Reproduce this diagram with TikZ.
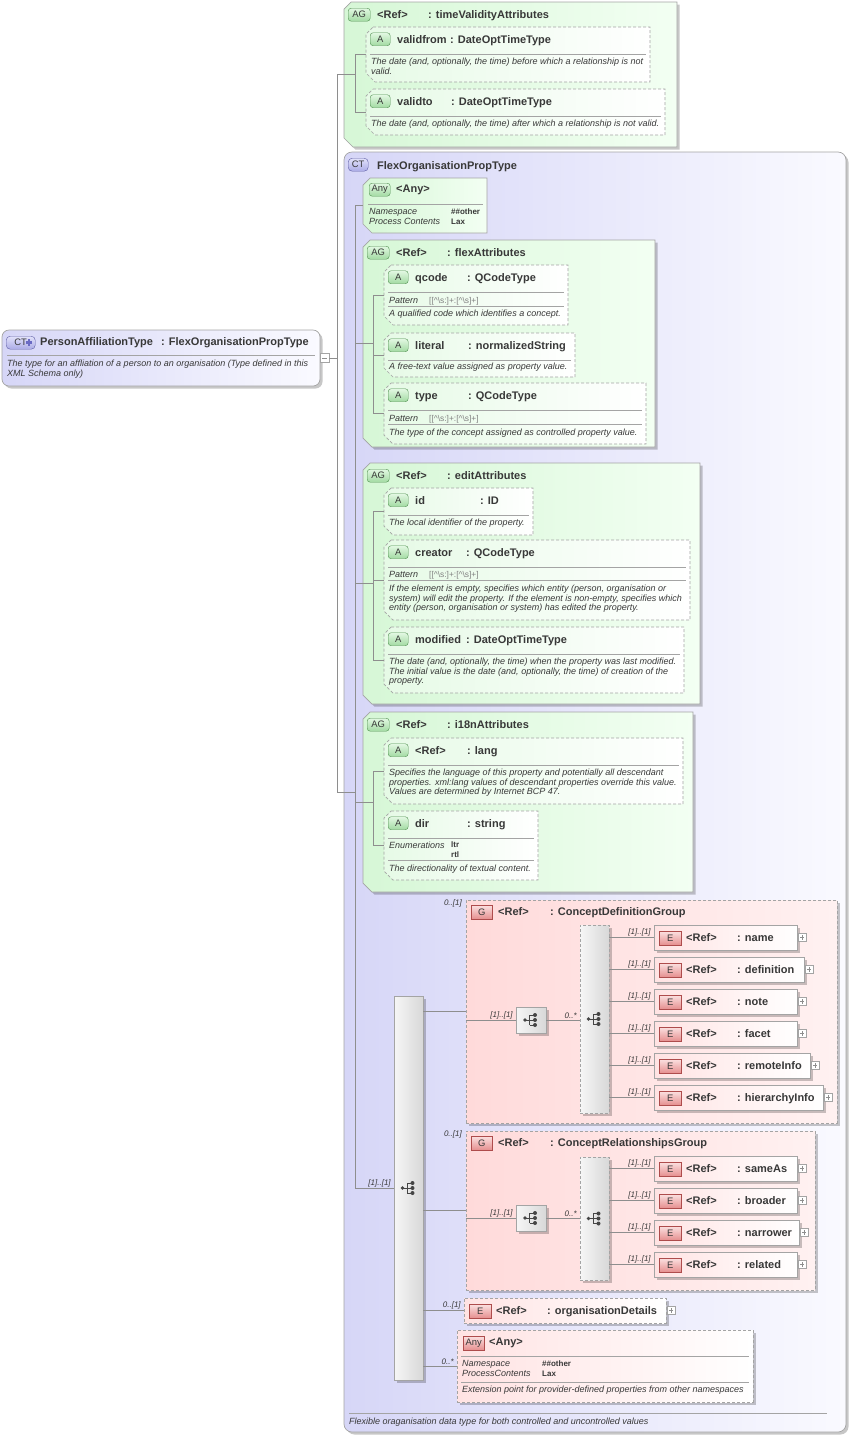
\documentclass[tikz,border=0pt]{standalone}
\usepackage{fontspec}
\setmainfont{Liberation Sans}
\usetikzlibrary{positioning,calc,shadows}

\definecolor{lineGray}{HTML}{8E8E8E}
\definecolor{borderGray}{HTML}{A4A4A4}
\definecolor{txtGray}{HTML}{383838}
\definecolor{ctLeft}{HTML}{D6D6F7}
\definecolor{ctRight}{HTML}{FAFAFF}
\definecolor{agLeft}{HTML}{D6F7D6}
\definecolor{agRight}{HTML}{F3FFF3}
\definecolor{attLeft}{HTML}{E6FAE6}
\definecolor{grpLeft}{HTML}{FFDADA}
\definecolor{grpRight}{HTML}{FFF1F1}
\definecolor{elLeft}{HTML}{FFE3E3}
\definecolor{gTagTop}{HTML}{E2F8E2}
\definecolor{gTagBot}{HTML}{A2DAA2}
\definecolor{gTagLine}{HTML}{4F8F4F}
\definecolor{rTagTop}{HTML}{FBE0E0}
\definecolor{rTagBot}{HTML}{E58E8E}
\definecolor{rTagLine}{HTML}{AE4C4C}
\definecolor{cTagTop}{HTML}{E2E2FA}
\definecolor{cTagBot}{HTML}{ABABE6}
\definecolor{cTagLine}{HTML}{5E5EA6}
\definecolor{plusBlue}{HTML}{6A6AC4}
\definecolor{compLeft}{HTML}{F6F6F6}
\definecolor{compRight}{HTML}{D8D8D8}
\definecolor{iconGray}{HTML}{454545}

\tikzset{
  conn/.style={draw=lineGray, line width=0.6pt},
  frame/.style={draw=borderGray, line width=0.7pt},
  dashframe/.style={frame, dash pattern=on 3pt off 2pt},
  sepline/.style={draw=borderGray, line width=0.5pt},
  boxshadow/.style={drop shadow={shadow xshift=2.5pt, shadow yshift=-2.5pt, fill=black, opacity=0.22}},
  hold/.style={inner sep=0pt, outer sep=0pt, anchor=north west},
  ttl/.style={font=\fontsize{11}{13}\selectfont\bfseries, text=txtGray, inner sep=0pt, anchor=base west},
  dsc/.style={font=\fontsize{9}{9.7}\selectfont\itshape, text=txtGray, inner sep=0pt, anchor=base west, align=left},
  val/.style={font=\fontsize{8}{10}\selectfont\bfseries, text=txtGray, inner sep=0pt, anchor=base west, align=left},
  patt/.style={font=\fontsize{8.4}{9}\selectfont, text=black!50, inner sep=0pt, anchor=base west},
  card/.style={font=\fontsize{8}{9}\selectfont\itshape, text=txtGray, inner sep=0pt},
  cardlbl/.style={card, anchor=south east, xshift=-3pt, yshift=1pt},
  tag/.style={font=\fontsize{9.4}{10}\selectfont, text=txtGray, inner sep=0pt, minimum height=13pt, anchor=north west},
  gtag/.style={tag, draw=gTagLine, top color=gTagTop, bottom color=gTagBot, rounded corners=3pt},
  rtag/.style={tag, draw=rTagLine, top color=rTagTop, bottom color=rTagBot, minimum height=14pt},
  ctag/.style={tag, draw=cTagLine, top color=cTagTop, bottom color=cTagBot, rounded corners=4pt},
  attfill/.style={dashframe, left color=attLeft, right color=white},
  comp/.style={frame, hold, left color=compLeft, right color=compRight, boxshadow},
  plusmark/.style={draw=borderGray, fill=white, minimum size=8pt, inner sep=0pt, anchor=west, xshift=1pt,
    path picture={\draw[lineGray, line width=0.5pt]
      ([xshift=1.8pt]path picture bounding box.west) -- ([xshift=-1.8pt]path picture bounding box.east)
      ([yshift=-1.8pt]path picture bounding box.north) -- ([yshift=1.8pt]path picture bounding box.south);}},
  minusmark/.style={draw=borderGray, fill=white, minimum size=9pt, inner sep=0pt, anchor=west,
    path picture={\draw[lineGray, line width=0.5pt]
      ([xshift=2pt]path picture bounding box.west) -- ([xshift=-2pt]path picture bounding box.east);}},
  compicon/.pic={
    \draw[iconGray, line width=1pt] (-6,0) -- (-1.5,0) (-1.5,-5) -- (-1.5,5)
      (-1.5,-5) -- (3,-5) (-1.5,0) -- (3,0) (-1.5,5) -- (3,5);
    \fill[iconGray] (-6,0) circle (1.8pt) (4,-5) circle (2pt) (4,0) circle (2pt) (4,5) circle (2pt);
  }
}

% box with cut corners on the left, plus a named frame node over it
\newcommand{\chambox}[6]{%
  \path[#6] ({#2+7},#3) -- (#4,#3) -- (#4,#5) -- ({#2+9},#5) -- (#2,{#5-9}) -- (#2,{#3+7}) -- cycle;
  \node[hold, minimum width={#4-#2}, minimum height={#5-#3}] (#1) at (#2,#3) {};%
}
% attribute group
\newcommand{\agbox}[6]{%
  \chambox{#1}{#2}{#3}{#4}{#5}{frame, left color=agLeft, right color=agRight, boxshadow}
  \node[gtag, minimum width=22pt] (#1Tag) at ({#2+4},{#3+6}) {AG};
  \node[ttl] (#1Ref) at ({#2+33},{#3+16}) {<Ref>};
  \node[ttl] (#1Type) at ({#2+84},{#3+16}) {: #6};%
}
% attribute
\newcommand{\attrbox}[8]{%
  \chambox{#1}{#2}{#3}{#4}{#5}{attfill}
  \node[gtag, minimum width=20pt] (#1Tag) at ({#2+4},{#3+5.5}) {A};
  \node[ttl] (#1Name) at ({#2+31},{#3+16}) {#6};
  \node[ttl] (#1Type) at (#7,{#3+16}) {: #8};
  \draw[sepline] ({#2+4},{#3+27}) -- ({#4-4},{#3+27});%
}
% element
\newcommand{\elembox}[6]{%
  \node[hold, #6, left color=elLeft, right color=white, boxshadow, minimum width=#4pt, minimum height=25pt] (#1) at (#2,#3) {};
  \node[rtag, minimum width=22pt] (#1Tag) at ({#2+5},{#3+6}) {E};
  \node[ttl] (#1Ref) at ({#2+32},{#3+16.5}) {<Ref>};
  \node[ttl] (#1Type) at ({#2+83},{#3+16.5}) {: #5};
  \node[plusmark] (#1Plus) at (#1.east) {};%
}
% model group
\newcommand{\grpbox}[6]{%
  \node[hold, dashframe, left color=grpLeft, right color=grpRight, boxshadow, minimum width={#4-#2}, minimum height={#5-#3}] (#1) at (#2,#3) {};
  \node[rtag, minimum width=21pt] (#1Tag) at ({#2+5},{#3+5}) {G};
  \node[ttl] (#1Ref) at ({#2+32},{#3+15}) {<Ref>};
  \node[ttl] (#1Type) at ({#2+84},{#3+15}) {: #6};
  \node[card, anchor=north east] (#1Card) at ([xshift=-4pt, yshift=1pt]#1.north west) {0..[1]};%
}

\begin{document}
\begin{tikzpicture}[x=1pt, y=-1pt]
\useasboundingbox (0,0) rectangle (851,1436);

\coordinate (trunkX) at (337,0);
\coordinate (laneA) at (355,0);
\coordinate (laneB) at (373,0);

% root type
\node[hold, frame, rounded corners=7pt, left color=ctLeft, right color=ctRight, boxshadow,
  minimum width=318pt, minimum height=56pt] (root) at (2,330) {};
\node[ctag, minimum width=29pt] (rootTag) at (6,336) {CT\hspace{10pt}};
\draw[plusBlue, line width=2.2pt] (25.5,342.5) -- (32,342.5) (28.75,339.2) -- (28.75,345.8);
\node[ttl] (rootName) at (40,345) {PersonAffiliationType};
\node[ttl] (rootType) at (161,345) {: FlexOrganisationPropType};
\draw[sepline] (7,355) -- (315,355);
\node[dsc] (rootDesc) at (7,376.5) {The type for an affliation of a person to an organisation (Type defined in this\\XML Schema only)};
\node[minusmark] (rootMinus) at (320,358) {};

% timeValidityAttributes
\agbox{agTime}{344}{2}{677}{147}{timeValidityAttributes}
\attrbox{aFrom}{366}{27}{650}{82}{validfrom}{450}{DateOptTimeType}
\node[dsc] (aFromDesc) at (371,74.5) {The date (and, optionally, the time) before which a relationship is not\\valid.};
\attrbox{aTo}{366}{89}{665}{135}{validto}{451}{DateOptTimeType}
\node[dsc] (aToDesc) at (371,126.5) {The date (and, optionally, the time) after which a relationship is not valid.};

% complex type
\node[hold, frame, rounded corners=8pt, left color=ctLeft, right color=ctRight, boxshadow,
  minimum width=502pt, minimum height=1280pt] (ctFlex) at (344,152) {};
\node[ctag, minimum width=20pt] (ctFlexTag) at (348,158) {CT};
\node[ttl] (ctFlexName) at (377,169) {FlexOrganisationPropType};
\draw[sepline] (349,1413) -- (827,1413);
\node[dsc] (ctFlexDesc) at (349,1424) {Flexible oraganisation data type for both controlled and uncontrolled values};

% any attribute
\chambox{anyOther}{363}{178}{487}{233}{frame, left color=agLeft, right color=agRight}
\node[gtag, minimum width=21pt] (anyOtherTag) at (369,183) {Any};
\node[ttl] (anyOtherName) at (396,192) {<Any>};
\draw[sepline] (368,204) -- (483,204);
\node[dsc] (anyOtherKeys) at (369,224.5) {Namespace\\Process Contents};
\node[val] (anyOtherVals) at (451,224) {\#\#other\\Lax};

% flexAttributes
\agbox{agFlex}{363}{240}{655}{447}{flexAttributes}
\attrbox{aQcode}{384}{265}{568}{325}{qcode}{467}{QCodeType}
\node[dsc] (aQcodePat) at (389,303) {Pattern};
\node[patt] (aQcodePatV) at (429,303) {[[\textasciicircum\textbackslash s:]+:[\textasciicircum\textbackslash s]+]};
\draw[sepline] (388,306) -- (564,306);
\node[dsc] (aQcodeDesc) at (389,316.5) {A qualified code which identifies a concept.};
\attrbox{aLiteral}{384}{333}{575}{377}{literal}{468}{normalizedString}
\node[dsc] (aLiteralDesc) at (389,369.5) {A free-text value assigned as property value.};
\attrbox{aType}{384}{383}{646}{444}{type}{468}{QCodeType}
\node[dsc] (aTypePat) at (389,421) {Pattern};
\node[patt] (aTypePatV) at (429,421) {[[\textasciicircum\textbackslash s:]+:[\textasciicircum\textbackslash s]+]};
\draw[sepline] (388,424) -- (642,424);
\node[dsc] (aTypeDesc) at (389,435) {The type of the concept assigned as controlled property value.};

% editAttributes
\agbox{agEdit}{363}{463}{700}{704}{editAttributes}
\attrbox{aId}{384}{488}{533}{535}{id}{480}{ID}
\node[dsc] (aIdDesc) at (389,525.5) {The local identifier of the property.};
\attrbox{aCreator}{384}{540}{690}{620}{creator}{466}{QCodeType}
\node[dsc] (aCreatorPat) at (389,577.5) {Pattern};
\node[patt] (aCreatorPatV) at (429,577.5) {[[\textasciicircum\textbackslash s:]+:[\textasciicircum\textbackslash s]+]};
\draw[sepline] (388,580.5) -- (686,580.5);
\node[dsc] (aCreatorDesc) at (389,610.9) {If the element is empty, specifies which entity (person, organisation or\\system) will edit the property. If the element is non-empty, specifies which\\entity (person, organisation or system) has edited the property.};
\attrbox{aModified}{384}{627}{684}{693}{modified}{466}{DateOptTimeType}
\node[dsc] (aModifiedDesc) at (389,683.9) {The date (and, optionally, the time) when the property was last modified.\\The initial value is the date (and, optionally, the time) of creation of the\\property.};

% i18nAttributes
\agbox{agI18n}{363}{712}{693}{892}{i18nAttributes}
\attrbox{aLang}{384}{738}{683}{804}{<Ref>}{467}{lang}
\node[dsc] (aLangDesc) at (389,794.9) {Specifies the language of this property and potentially all descendant\\properties. xml:lang values of descendant properties override this value.\\Values are determined by Internet BCP 47.};
\attrbox{aDir}{384}{811}{538}{880}{dir}{467}{string}
\node[dsc] (aDirKey) at (389,848) {Enumerations};
\node[val] (aDirVals) at (451,857) {ltr\\rtl};
\draw[sepline] (388,860) -- (534,860);
\node[dsc] (aDirDesc) at (389,871) {The directionality of textual content.};

% content model
\node[comp, minimum width=29pt, minimum height=384pt] (seqMain) at (394,996) {};
\pic at (seqMain.center) {compicon};

\grpbox{gDef}{466}{900}{837}{1123}{ConceptDefinitionGroup}
\node[comp, minimum width=30pt, minimum height=26pt] (chDef) at (516,1007) {};
\pic at (chDef.center) {compicon};
\node[comp, dash pattern=on 3pt off 2pt, minimum width=29pt, minimum height=188pt] (seqDef) at (580,925) {};
\pic at (seqDef.center) {compicon};
\elembox{eName}{654}{925}{143}{name}{frame}
\elembox{eDefinition}{654}{957}{150}{definition}{frame}
\elembox{eNote}{654}{989}{143}{note}{frame}
\elembox{eFacet}{654}{1021}{143}{facet}{frame}
\elembox{eRemote}{654}{1053}{156}{remoteInfo}{frame}
\elembox{eHier}{654}{1085}{169}{hierarchyInfo}{frame}

\grpbox{gRel}{466}{1131}{815}{1290}{ConceptRelationshipsGroup}
\node[comp, minimum width=30pt, minimum height=26pt] (chRel) at (516,1205) {};
\pic at (chRel.center) {compicon};
\node[comp, dash pattern=on 3pt off 2pt, minimum width=29pt, minimum height=123pt] (seqRel) at (580,1157) {};
\pic at (seqRel.center) {compicon};
\elembox{eSameAs}{654}{1156}{143}{sameAs}{frame}
\elembox{eBroader}{654}{1188}{143}{broader}{frame}
\elembox{eNarrower}{654}{1220}{145}{narrower}{frame}
\elembox{eRelated}{654}{1252}{143}{related}{frame}

\elembox{eOrgDet}{464}{1298}{202}{organisationDetails}{dashframe}

\node[hold, dashframe, left color=elLeft, right color=white, boxshadow, minimum width=296pt, minimum height=72pt] (anyExt) at (457,1330) {};
\node[rtag, minimum width=21pt] (anyExtTag) at (463,1336) {Any};
\node[ttl] (anyExtName) at (489,1345) {<Any>};
\draw[sepline] (461,1356) -- (749,1356);
\node[dsc] (anyExtKeys) at (462,1376.5) {Namespace\\ProcessContents};
\node[val] (anyExtVals) at (542,1376) {\#\#other\\Lax};
\draw[sepline] (461,1382) -- (749,1382);
\node[dsc] (anyExtDesc) at (462,1392.5) {Extension point for provider-defined properties from other namespaces};

% connectors
\draw[conn] (rootMinus.east) -- (rootMinus.east -| trunkX);
\draw[conn] (trunkX |- agTime.west) -- (trunkX |- ctFlex.west);
\draw[conn] (trunkX |- agTime.west) -- (laneA |- agTime.west);
\draw[conn] (trunkX |- ctFlex.west) -- (laneA |- ctFlex.west);
\draw[conn] (laneA |- aFrom.west) -- (laneA |- aTo.west);
\foreach \at in {aFrom,aTo}
  \draw[conn] (laneA |- \at.west) -- (\at.west);

\draw[conn] (laneA |- anyOther.west) -- (laneA |- seqMain.west);
\draw[conn] (laneA |- anyOther.west) -- (anyOther.west);
\foreach \grp/\first/\last in {agFlex/aQcode/aType, agEdit/aId/aModified, agI18n/aLang/aDir} {
  \draw[conn] (laneA |- \grp.west) -- (laneB |- \grp.west);
  \draw[conn] (laneB |- \first.west) -- (laneB |- \last.west);
}
\foreach \at in {aQcode,aLiteral,aType,aId,aCreator,aModified,aLang,aDir}
  \draw[conn] (laneB |- \at.west) -- (\at.west);

\draw[conn] (laneA |- seqMain.west) -- (seqMain.west) node[cardlbl] {[1]..[1]};
\draw[conn] (seqMain.east |- gDef.west) -- (gDef.west);
\draw[conn] (seqMain.east |- gRel.west) -- (gRel.west);
\draw[conn] (seqMain.east |- eOrgDet.west) -- (eOrgDet.west) node[cardlbl] {0..[1]};
\draw[conn] (seqMain.east |- anyExt.west) -- (anyExt.west) node[cardlbl] {0..*};

\draw[conn] (gDef.west |- chDef.west) -- (chDef.west) node[cardlbl] {[1]..[1]};
\draw[conn] (chDef.east) -- (chDef.east -| seqDef.west) node[cardlbl] {0..*};
\foreach \el in {eName,eDefinition,eNote,eFacet,eRemote,eHier}
  \draw[conn] (seqDef.east |- \el.west) -- (\el.west) node[cardlbl] {[1]..[1]};

\draw[conn] (gRel.west |- chRel.west) -- (chRel.west) node[cardlbl] {[1]..[1]};
\draw[conn] (chRel.east) -- (chRel.east -| seqRel.west) node[cardlbl] {0..*};
\foreach \el in {eSameAs,eBroader,eNarrower,eRelated}
  \draw[conn] (seqRel.east |- \el.west) -- (\el.west) node[cardlbl] {[1]..[1]};
\end{tikzpicture}
\end{document}
